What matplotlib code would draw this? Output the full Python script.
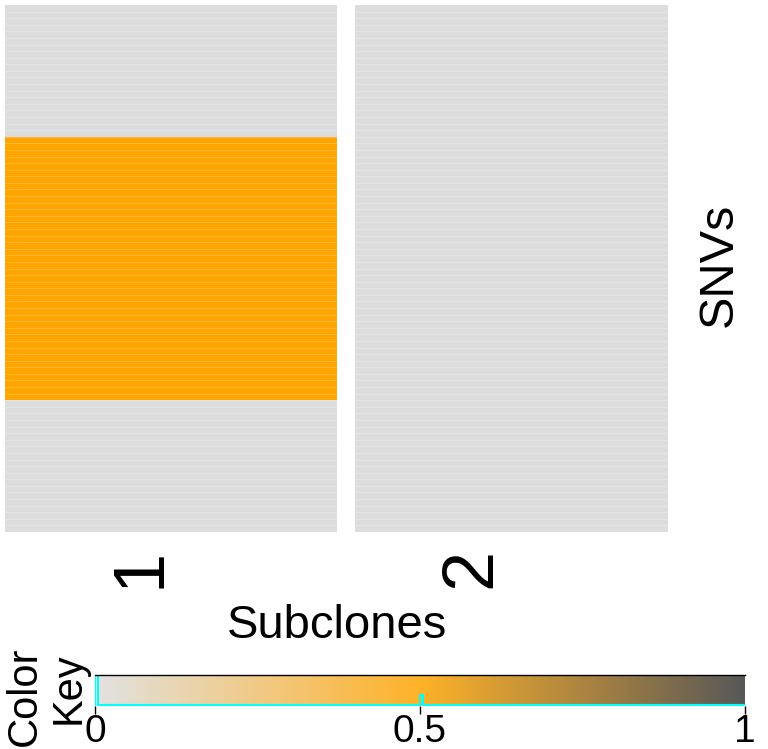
import matplotlib.pyplot as plt
import numpy as np
from matplotlib.colors import LinearSegmentedColormap

# data: 80 SNVs x 2 subclones (value 0 = absent, 0.5 = present in subclone)
subclones = ["1", "2"]
n_snvs = 80
snv_start = 20   # first SNV row (from top) with value in subclone 1
snv_end = 60     # last row (exclusive)
key_ticks = [0, 0.5, 1]
key_labels = ["0", "0.5", "1"]

mat = np.zeros((n_snvs, len(subclones)))
mat[snv_start:snv_end, 0] = 0.5

cmap = LinearSegmentedColormap.from_list("gor", ["#dddddd", "#ffa500", "#3a3a3a"], N=256)

plt.rcParams['font.family'] = ['Liberation Sans', 'DejaVu Sans']
fig = plt.figure(figsize=(7.68, 7.49), dpi=100)

# heatmap
ax = fig.add_axes([5/768, 1-532/749, 663/768, 527/749])
ax.pcolormesh(np.arange(len(subclones)+1), np.arange(n_snvs+1), mat,
              cmap=cmap, vmin=0, vmax=1)
ax.hlines(np.arange(1, n_snvs), 0, len(subclones), color='white', alpha=0.25, lw=0.6)
# column separator
ax.axvspan(1, 1 + 18/331.5, color='white', lw=0)
ax.set_xlim(0, len(subclones))
ax.set_ylim(n_snvs, 0)
ax.set_xticks([])
ax.set_yticks([])
for s in ax.spines.values():
    s.set_visible(False)

for i, lab in enumerate(subclones):
    ax.text(i + 0.5 + 0.01, -0.03, lab, transform=ax.get_xaxis_transform(), rotation=90,
            ha='right', va='top', fontsize=52)
fig.text(337/768, 1-626/749, "Subclones", ha='center', va='center', fontsize=34)
fig.text(719/768, 1-265/749, "SNVs", ha='center', va='center', rotation=90, fontsize=35)

# color key
kax = fig.add_axes([95/768, 1-706/749, 650/768, 31/749])
grad = np.linspace(0, 1, 256).reshape(1, -1)
kax.imshow(grad, aspect='auto', cmap=cmap, extent=[0, 1, 0, 1], alpha=0.85)
vals = mat.ravel()
counts, edges = np.histogram(vals, bins=np.linspace(0, 1, 257))
hy = counts / counts.max() * 0.98
kax.step(np.r_[edges[0], edges[:-1], edges[-1]], np.r_[0, hy, hy[-1]] + 0.02,
         where='post', color='cyan', lw=1.5)
kax.set_xlim(0, 1)
kax.set_ylim(0, 1)
kax.set_yticks([])
kax.set_xticks(key_ticks)
kax.set_xticklabels(key_labels, fontsize=28)
kax.tick_params(axis='x', length=6, width=1, pad=0)
for s in ['left', 'right', 'bottom']:
    kax.spines[s].set_visible(False)
kax.spines['top'].set_linewidth(1)
fig.text(25/768, 1-696/749, "Color", ha='center', va='center', rotation=90, fontsize=30)
fig.text(69/768, 1-688/749, "Key", ha='center', va='center', rotation=90, fontsize=30)

fig.savefig("out.png", dpi=100)
